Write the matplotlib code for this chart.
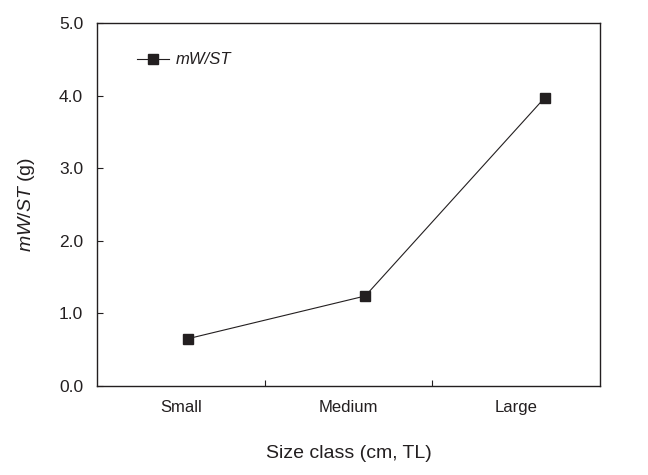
import matplotlib
matplotlib.use("Agg")
import matplotlib.pyplot as plt

categories = ["Small", "Medium", "Large"]
values = [0.65, 1.24, 3.97]
point_x = [0.54, 1.60, 2.67]
label_x = [0.5, 1.5, 2.5]
boundary_ticks = [1, 2]
yticks = [0.0, 1.0, 2.0, 3.0, 4.0, 5.0]

plt.rcParams['font.family'] = ['Liberation Sans', 'DejaVu Sans']
plt.rcParams['mathtext.fontset'] = 'custom'
plt.rcParams['mathtext.it'] = 'Liberation Sans:italic'
plt.rcParams['mathtext.rm'] = 'Liberation Sans'
dark = '#231f20'

fig = plt.figure(figsize=(6.48, 4.75), dpi=100)
ax = fig.add_axes([97/648, 1-386/475, (600-97)/648, (386-23)/475])

ax.plot(point_x, values, color=dark, lw=0.8, marker='s', markersize=7.2,
        markerfacecolor=dark, markeredgecolor=dark, label='mW/ST')

ax.set_xlim(0, 3)
ax.set_ylim(0, 5)
ax.set_yticks(yticks)
ax.set_yticklabels([f"{v:.1f}" for v in yticks])
ax.set_xticks(boundary_ticks)
ax.set_xticklabels([])
ax.set_xticks(label_x, minor=True)
ax.set_xticklabels(categories, minor=True)

ax.tick_params(axis='both', which='major', direction='in', length=4.3, width=0.8,
               labelsize=12.5, colors=dark)
ax.tick_params(axis='y', pad=10)
ax.tick_params(axis='x', which='minor', length=0, pad=10, labelsize=12, labelcolor=dark)
for s in ax.spines.values():
    s.set_linewidth(1.0)
    s.set_color(dark)

ax.set_xlabel('Size class (cm, TL)', fontsize=14, color=dark, labelpad=22)
ax.set_ylabel(r'$\mathit{mW/ST}$ (g)', fontsize=14, color=dark, labelpad=16)

leg = ax.legend(loc='center left', bbox_to_anchor=((137-97)/503, (386-60)/363),
                frameon=False, borderpad=0, borderaxespad=0, fontsize=12,
                handlelength=1.9, handletextpad=0.4)
for t in leg.get_texts():
    t.set_fontstyle('italic')
    t.set_color(dark)

fig.savefig('out.png', dpi=100)
